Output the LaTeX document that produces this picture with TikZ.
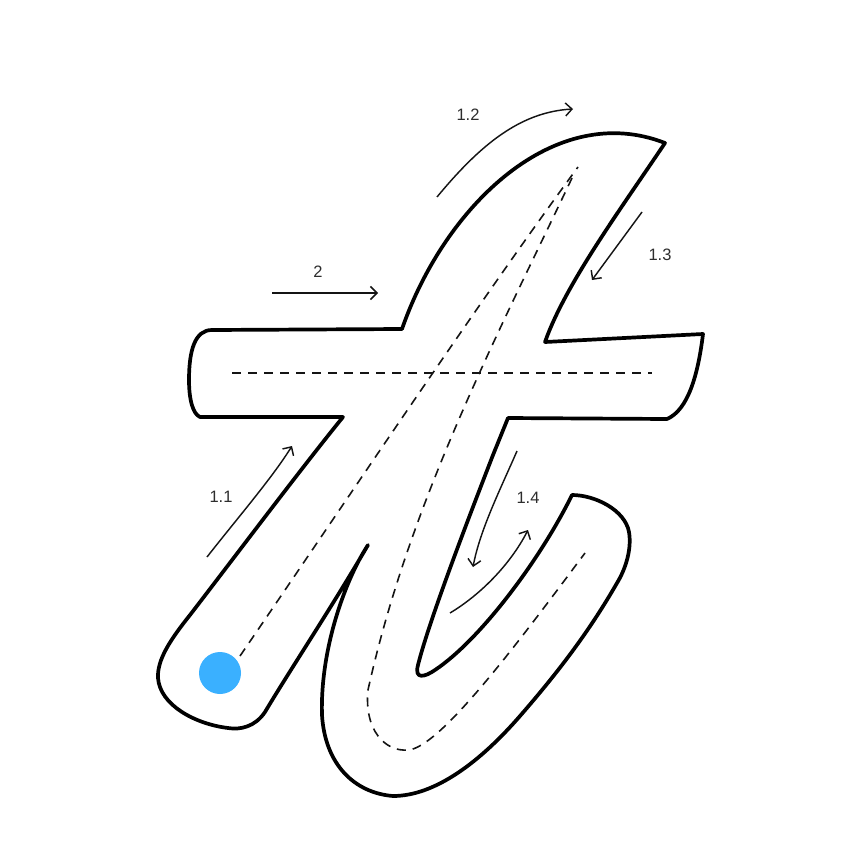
\documentclass[tikz,border=0pt]{standalone}
\usepackage{fontspec}
\setmainfont{Liberation Sans}
\usetikzlibrary{arrows.meta}
\definecolor{dotblue}{RGB}{58,176,255}
\definecolor{ink}{RGB}{20,20,20}
\definecolor{lblgray}{RGB}{45,45,45}
\begin{document}
\begin{tikzpicture}[x=1pt,y=-1pt,
  outline/.style={line width=3.7pt, line join=round, draw=black},
  guide/.style={line width=1.6pt, dash pattern=on 9pt off 7pt, draw=ink},
  hint/.style={line width=1.45pt, draw=ink, -{Straight Barb[length=6.5pt,width=13pt,line width=1.45pt]}},
  lbl/.style={font=\fontsize{16.5}{19}\selectfont, text=lblgray, inner sep=0pt}]
\useasboundingbox[fill=white] (0,0) rectangle (864,864);

% letter outline
\draw[outline] (212,330) -- (402,329)
  .. controls (445,205) and (555,100) .. (665,143)
  .. controls (620,210) and (565,285) .. (545,342)
  -- (703,334)
  .. controls (698,375) and (688,410) .. (667,419)
  -- (508,418) -- (493,455)
  .. controls (460,540) and (428,625) .. (418,665)
  .. controls (414,680) and (425,677) .. (435,670)
  .. controls (480,640) and (540,560) .. (572,495)
  .. controls (595,495) and (625,510) .. (629,532)
  .. controls (632,550) and (625,570) .. (617,583)
  .. controls (590,630) and (560,670) .. (520,716)
  .. controls (480,762) and (435,796) .. (393,796)
  .. controls (355,793) and (325,765) .. (322,715)
  .. controls (320,650) and (345,580) .. (368,545)
  .. controls (330,610) and (290,670) .. (265,712)
  .. controls (255,727) and (240,730) .. (228,728)
  .. controls (195,724) and (160,705) .. (158,678)
  .. controls (157,660) and (170,640) .. (190,615)
  .. controls (240,550) and (300,470) .. (343,417)
  -- (200,417)
  .. controls (193,414) and (189,400) .. (189,380)
  .. controls (189,350) and (195,330) .. cycle;

% guide lines
\coordinate (g1s) at (240,656);
\coordinate (g1e) at (578,167);
\coordinate (g2s) at (572,178);
\coordinate (g2m) at (368,690);
\coordinate (g2b) at (408,750);
\coordinate (g2e) at (585,553);
\coordinate (g3s) at (232,373);
\coordinate (g3e) at (652,373);
\draw[guide] (g1s) .. controls (340,510) and (480,300) .. (g1e);
\draw[guide] (g2s) .. controls (500,330) and (410,500) .. (g2m)
  .. controls (364,730) and (385,752) .. (g2b)
  .. controls (440,748) and (520,640) .. (g2e);
\draw[guide] (g3s) -- (g3e);

% start dot
\node[circle, fill=dotblue, minimum size=42pt, inner sep=0pt] (start) at (220,673) {};

% direction hints
\coordinate (a11s) at (207,557);
\coordinate (a11e) at (292,446);
\coordinate (a12s) at (437,197);
\coordinate (a12e) at (573,109);
\coordinate (a13s) at (642,212);
\coordinate (a13e) at (592,280);
\coordinate (a2s) at (272,293);
\coordinate (a2e) at (378,293);
\coordinate (a14s) at (517,451);
\coordinate (a14e) at (473,567);
\coordinate (a14bs) at (450,613);
\coordinate (a14be) at (528,530);
\draw[hint] (a11s) .. controls (240,515) and (272,478) .. (a11e);
\draw[hint] (a12s) .. controls (480,145) and (520,112) .. (a12e);
\draw[hint] (a13s) -- (a13e);
\draw[hint] (a2s) -- (a2e);
\draw[hint] (a14s) .. controls (500,490) and (480,530) .. (a14e);
\draw[hint] (a14bs) .. controls (480,595) and (510,565) .. (a14be);

% labels
\node[lbl] (l11) at (221,497) {1.1};
\node[lbl] (l12) at (468,115) {1.2};
\node[lbl] (l13) at (660,255) {1.3};
\node[lbl] (l2) at (318,272) {2};
\node[lbl] (l14) at (528,498) {1.4};
\end{tikzpicture}
\end{document}
